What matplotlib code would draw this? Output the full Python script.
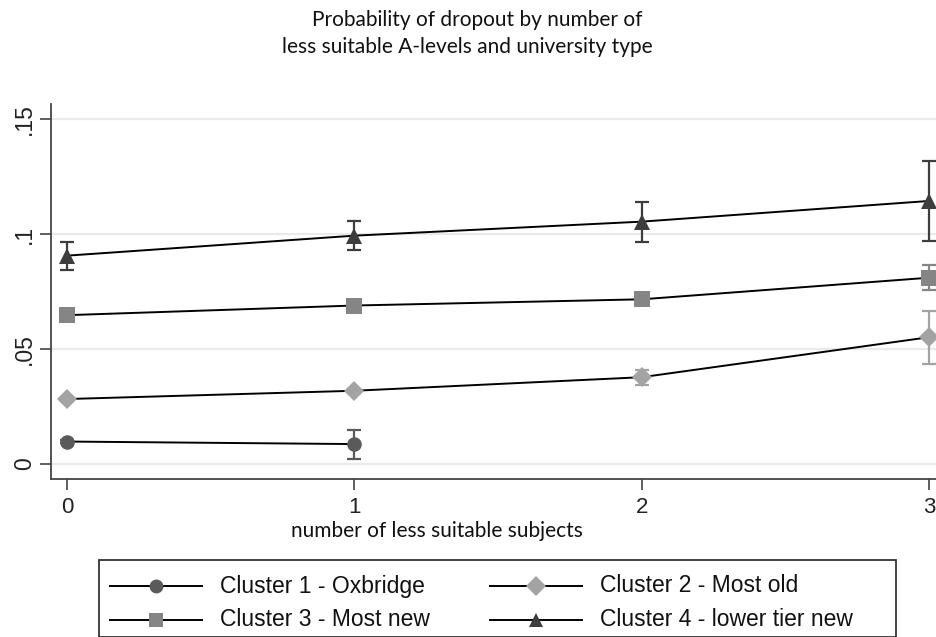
import matplotlib
matplotlib.use("Agg")
import matplotlib.pyplot as plt
from matplotlib.lines import Line2D
from matplotlib.patches import Rectangle

x_vals = [0, 1, 2, 3]
x_ticklabels = ["0", "1", "2", "3"]
y_ticks = [0, 0.05, 0.1, 0.15]
y_ticklabels = ["0", ".05", ".1", ".15"]

labels = ["Cluster 1 - Oxbridge", "Cluster 2 - Most old",
          "Cluster 3 - Most new", "Cluster 4 - lower tier new"]

c1_x = [0, 1]
c1_y = [0.0098, 0.0087]
c1_lo = [0.0090, 0.0023]
c1_hi = [0.0106, 0.0150]

c2_x = [0, 1, 2, 3]
c2_y = [0.0283, 0.0319, 0.0378, 0.0552]
c2_lo = [0.0275, 0.0311, 0.0345, 0.0436]
c2_hi = [0.0291, 0.0327, 0.0411, 0.0665]

c3_x = [0, 1, 2, 3]
c3_y = [0.0648, 0.0690, 0.0717, 0.0811]
c3_lo = [0.0640, 0.0682, 0.0709, 0.0757]
c3_hi = [0.0656, 0.0698, 0.0725, 0.0867]

c4_x = [0, 1, 2, 3]
c4_y = [0.0907, 0.0994, 0.1055, 0.1145]
c4_lo = [0.0843, 0.0930, 0.0965, 0.0971]
c4_hi = [0.0968, 0.1057, 0.1140, 0.1319]

series = [
    (c1_x, c1_y, c1_lo, c1_hi, "o", "#5a5a5a", 10.5),
    (c2_x, c2_y, c2_lo, c2_hi, "D", "#a3a3a3", 10),
    (c3_x, c3_y, c3_lo, c3_hi, "s", "#858585", 11),
    (c4_x, c4_y, c4_lo, c4_hi, "^", "#3d3d3d", 12),
]

W, H = 937, 637
fig = plt.figure(figsize=(W / 100, H / 100), dpi=100)
fig.patch.set_facecolor("white")

left_px, right_px = 51, 945
bot_px, top_px = 479, 104
ax = fig.add_axes([left_px / W, 1 - bot_px / H, (right_px - left_px) / W, (bot_px - top_px) / H])
ax.set_xlim(-0.0556, 3.0556)
ax.set_ylim(-0.0065, 0.1567)

for y in y_ticks:
    ax.axhline(y, color="#eaeaea", lw=1.6, zorder=0)

for xs, ys, lo, hi, mk, col, ms in series:
    ax.plot(xs, ys, color="black", lw=1.4, zorder=2)
    yerr = [[a - b for a, b in zip(ys, lo)], [b - a for a, b in zip(ys, hi)]]
    ax.errorbar(xs, ys, yerr=yerr, fmt="none", ecolor=col, elinewidth=1.6,
                capsize=5, capthick=1.6, zorder=3)
    ax.plot(xs, ys, linestyle="none", marker=mk, color=col, markersize=ms,
            markeredgewidth=0, zorder=4)

for s in ["top", "right"]:
    ax.spines[s].set_visible(False)
for s in ["left", "bottom"]:
    ax.spines[s].set_color("#444444")
    ax.spines[s].set_linewidth(1.3)

tick_font = ["Liberation Sans Narrow", "Liberation Sans", "DejaVu Sans"]
ax.set_xticks(x_vals)
ax.set_xticklabels(x_ticklabels, family=tick_font, fontsize=16, color="#222222")
ax.set_yticks(y_ticks)
ax.set_yticklabels(y_ticklabels, family=tick_font, fontsize=16.5, color="#222222",
                   rotation=90, va="center")
ax.tick_params(axis="both", length=8, width=1.2, color="#444444")
ax.tick_params(axis="x", pad=5)
ax.tick_params(axis="y", pad=3)

title_font = ["Lato", "Open Sans", "DejaVu Sans"]
fig.text(477 / W, 1 - 20 / H, "Probability of dropout by number of", ha="center",
         va="center", family=title_font, fontsize=15, color="#111111")
fig.text(467 / W, 1 - 47 / H, "less suitable A-levels and university type", ha="center",
         va="center", family=title_font, fontsize=15, color="#111111")
fig.text(437 / W, 1 - 531 / H, "number of less suitable subjects", ha="center",
         va="center", family=title_font, fontsize=15, color="#111111")

# legend box
lx0, lx1, ly0 = 99, 896, 560
fig.patches.append(Rectangle((lx0 / W, 0), (lx1 - lx0) / W, 1 - ly0 / H,
                             transform=fig.transFigure, fill=False,
                             edgecolor="#333333", lw=1.3))
entries = [
    (labels[0], "o", series[0][5], 110, 586),
    (labels[1], "D", series[1][5], 490, 586),
    (labels[2], "s", series[2][5], 110, 620),
    (labels[3], "^", series[3][5], 490, 620),
]
for lab, mk, col, x0, yy in entries:
    ln = Line2D([x0 / W, (x0 + 92) / W], [1 - yy / H, 1 - yy / H],
                transform=fig.transFigure, color="black", lw=1.4)
    fig.lines.append(ln)
    mkr = Line2D([(x0 + 46) / W], [1 - yy / H], transform=fig.transFigure,
                 linestyle="none", marker=mk, color=col, markersize=10,
                 markeredgewidth=0)
    fig.lines.append(mkr)
    fig.text((x0 + 110) / W, 1 - yy / H, lab, ha="left", va="center",
             family=tick_font, fontsize=16.5, color="#111111")

fig.savefig("out.png", dpi=100, facecolor="white")
